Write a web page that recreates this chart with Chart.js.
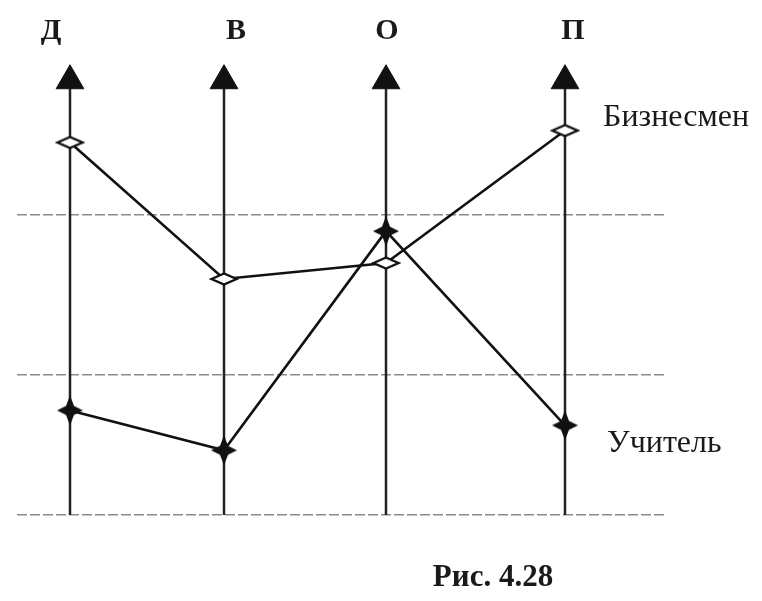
<!DOCTYPE html>
<html><head><meta charset="utf-8">
<script src="https://cdn.jsdelivr.net/npm/chart.js@4/dist/chart.umd.min.js"></script>
<style>html,body{margin:0;padding:0;background:#fff}#wrap{width:762px;height:601px}</style>
</head><body><div id="wrap"><canvas id="c" width="762" height="601"></canvas></div>
<script>
// ---- data ----
const categories = ['Д', 'В', 'О', 'П'];
const axisPositions = [6.5, 21.9, 38.1, 56.0];
const businessman = [37.4, 23.7, 25.3, 38.6];
const teacher = [10.5, 6.5, 28.5, 9.0];
const levelLines = [0, 14.1, 30.1];
const arrowTop = 43.6;
const seriesNames = ['Бизнесмен', 'Учитель'];
const caption = 'Рис. 4.28';

// ---- marker images ----
function makeDiamond() {
  const c = document.createElement('canvas'); c.width = 30; c.height = 16;
  const g = c.getContext('2d');
  g.beginPath(); g.moveTo(2.5, 8); g.lineTo(15, 2.5); g.lineTo(27.5, 8); g.lineTo(15, 13.5); g.closePath();
  g.fillStyle = '#fff'; g.fill(); g.lineWidth = 2.4; g.strokeStyle = '#111'; g.stroke();
  return c;
}
function makeStar() {
  const c = document.createElement('canvas'); c.width = 30; c.height = 34;
  const g = c.getContext('2d');
  const p = [[15,2],[19,12.5],[28,17],[19,21.5],[15,32],[11,21.5],[2,17],[11,12.5]];
  g.beginPath(); p.forEach((q,i)=> i ? g.lineTo(q[0],q[1]) : g.moveTo(q[0],q[1])); g.closePath();
  g.fillStyle = '#111'; g.fill();
  return c;
}
const diamond = makeDiamond();
const star = makeStar();

const axisDatasets = axisPositions.map((ax, i) => ({
  label: 'axis ' + categories[i],
  data: [{x: ax, y: 0}, {x: ax, y: arrowTop}],
  borderColor: '#222', borderWidth: 2.5,
  pointStyle: 'triangle', pointRadius: [0, 16], pointHoverRadius: [0, 16],
  pointBackgroundColor: '#111', pointBorderColor: '#111', pointBorderWidth: 1,
  order: 2, clip: false
}));

const toPts = arr => arr.map((v, i) => ({x: axisPositions[i], y: v}));

const textPlugin = {
  id: 'texts',
  afterDatasetsDraw(chart, args, opts) {
    const {ctx, scales: {x, y}} = chart;
    ctx.save();
    ctx.fillStyle = '#1a1a1a';
    ctx.textBaseline = 'middle';
    ctx.textAlign = 'center';
    ctx.font = 'bold 30px "Liberation Serif"';
    categories.forEach((c, i) => ctx.fillText(c, x.getPixelForValue(axisPositions[i]) + opts.labelShift[i], 31));
    ctx.textAlign = 'left';
    ctx.font = '32px "Liberation Serif"';
    const last = axisPositions.length - 1;
    ctx.fillText(seriesNames[0], x.getPixelForValue(axisPositions[last]) + 38, y.getPixelForValue(businessman[last]) - 13);
    ctx.fillText(seriesNames[1], x.getPixelForValue(axisPositions[last]) + 42, y.getPixelForValue(teacher[last]) + 18);
    ctx.textAlign = 'center';
    ctx.font = 'bold 31px "Liberation Serif"';
    ctx.fillText(caption, 493, 578);
    ctx.restore();
  }
};

new Chart(document.getElementById('c'), {
  type: 'line',
  data: {
    datasets: [
      {
        label: seriesNames[0], data: toPts(businessman),
        borderColor: '#111', borderWidth: 2.6, tension: 0, fill: false,
        pointStyle: diamond, pointRadius: 8, order: 0, clip: false
      },
      {
        label: seriesNames[1], data: toPts(teacher),
        borderColor: '#111', borderWidth: 2.6, tension: 0, fill: false,
        pointStyle: star, pointRadius: 8, order: 0, clip: false
      },
      ...axisDatasets
    ]
  },
  options: {
    responsive: false,
    animation: false,
    devicePixelRatio: 1,
    layout: {padding: {left: 5, right: 97, top: 15, bottom: 86}},
    plugins: {legend: {display: false}, tooltip: {enabled: false}, texts: {labelShift: [-19, 12, 1, 8]}},
    scales: {
      x: {type: 'linear', min: 1.2, max: 66, display: false},
      y: {
        type: 'linear', min: 0, max: 50,
        afterBuildTicks: s => { s.ticks = levelLines.map(v => ({value: v})); },
        ticks: {display: false},
        grid: {drawTicks: false, color: '#8c8c8c', lineWidth: 1.5},
        border: {display: false, dash: [10, 3]}
      }
    }
  },
  plugins: [textPlugin]
});
</script>
</body></html>
